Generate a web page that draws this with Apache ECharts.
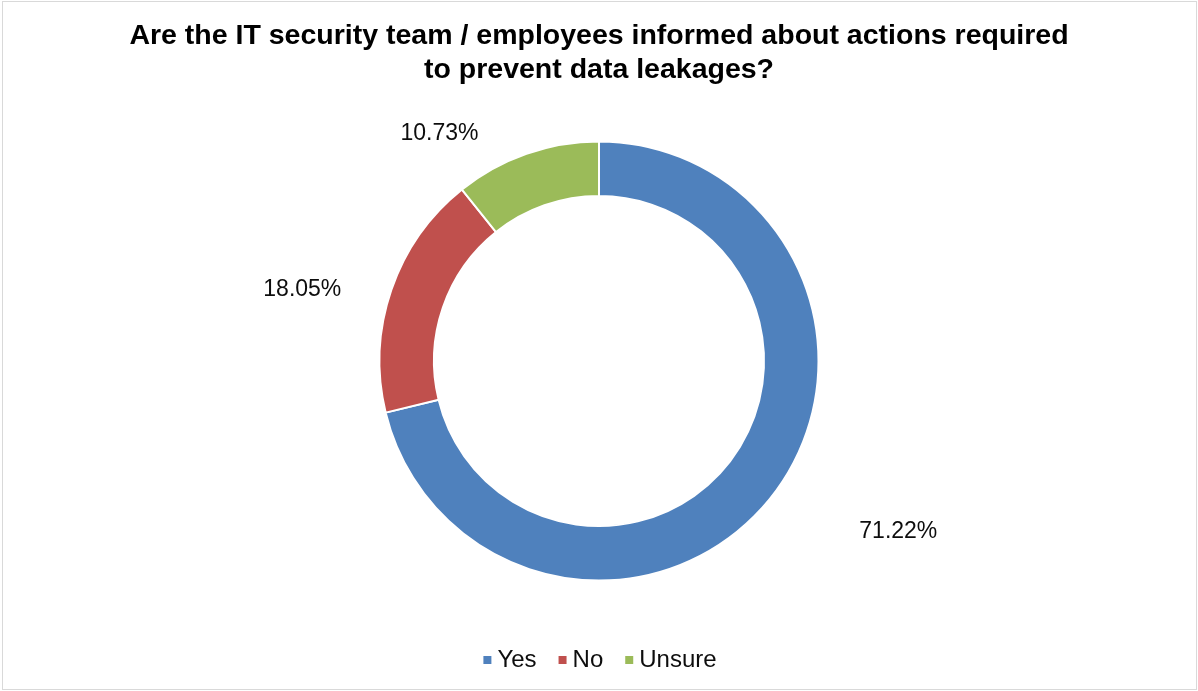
<!DOCTYPE html>
<html>
<head>
<meta charset="utf-8">
<script src="https://cdn.jsdelivr.net/npm/echarts@6/dist/echarts.min.js"></script>
<style>
  html, body { margin: 0; padding: 0; background: #ffffff; }
  #frame {
    position: absolute; left: 2px; top: 1px;
    width: 1193px; height: 687px;
    border: 1px solid #d9d9d9; box-sizing: content-box;
  }
  #chart { position: absolute; left: 0; top: 0; width: 1198px; height: 691px; }
</style>
</head>
<body>
<div id="frame"></div>
<div id="chart"></div>
<script>
// Survey answers (share of respondents, %)
const titleLines = [
  'Are the IT security team / employees informed about actions required',
  'to prevent data leakages?'
];
const categories = ['Yes', 'No', 'Unsure'];
const shares = [71.22, 18.05, 10.73];
const colors = ['#4F81BD', '#C0504D', '#9BBB59'];
// Per-slice label leader lengths (labels sit outside the ring, leader hidden)
const leaderLength = [57, 0, 21];
const leaderLength2 = [38, 45, 36];

const chart = echarts.init(document.getElementById('chart'), null, { renderer: 'canvas' });

const data = categories.map((name, i) => ({
  name: name,
  value: shares[i],
  itemStyle: { color: colors[i] },
  labelLine: { show: false, length: leaderLength[i], length2: leaderLength2[i] }
}));

chart.setOption({
  backgroundColor: 'transparent',
  animation: false,
  title: {
    text: titleLines.join('\n'),
    left: 'center',
    top: 14,
    textStyle: {
      fontFamily: 'Liberation Sans, Arial, sans-serif',
      fontWeight: 'bold',
      fontSize: 28.5,
      lineHeight: 34,
      color: '#000000',
      align: 'center'
    }
  },
  legend: {
    data: categories,
    left: 'center',
    top: 643,
    icon: 'rect',
    itemWidth: 10,
    itemHeight: 10,
    itemGap: 20,
    textStyle: {
      fontFamily: 'Liberation Sans, Arial, sans-serif',
      fontSize: 24,
      lineHeight: 24,
      color: '#0d0d0d'
    }
  },
  series: [{
    type: 'pie',
    center: [599, 361],
    radius: [165, 219.5],
    startAngle: 90,
    clockwise: true,
    avoidLabelOverlap: false,
    itemStyle: { borderColor: '#ffffff', borderWidth: 2 },
    label: {
      show: true,
      position: 'outside',
      distanceToLabelLine: 5,
      formatter: p => p.value.toFixed(2) + '%',
      fontFamily: 'Liberation Sans, Arial, sans-serif',
      fontSize: 23,
      padding: [6, 0, 0, 0],
      color: '#0d0d0d'
    },
    emphasis: { disabled: true },
    data: data
  }]
});
</script>
</body>
</html>
